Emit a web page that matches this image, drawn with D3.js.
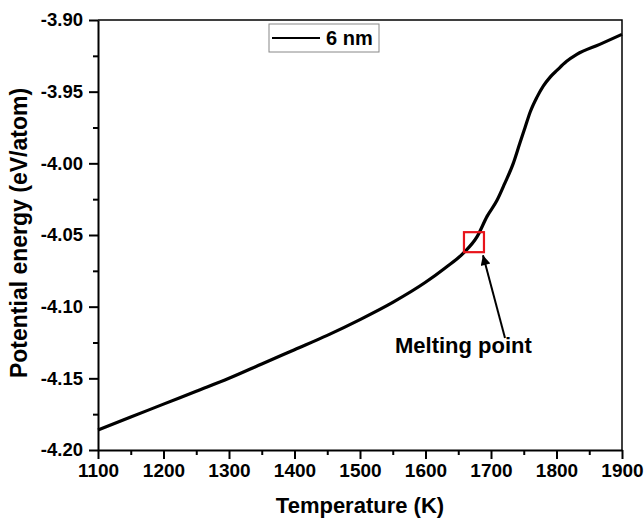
<!DOCTYPE html>
<html>
<head>
<meta charset="utf-8">
<script src="https://cdn.jsdelivr.net/npm/d3@7"></script>
<style>
  body { margin: 0; background: #fff; }
  text { font-family: "Liberation Sans", Arial, sans-serif; font-weight: bold; fill: #000; }
</style>
</head>
<body>
<svg id="chart" width="644" height="522"></svg>
<script>
// values
var temps = [1100, 1150, 1200, 1250, 1300, 1350, 1400, 1450, 1500, 1550, 1600, 1630,
             1657, 1679, 1694, 1709, 1721, 1734, 1744, 1752, 1760, 1770, 1780, 1790,
             1801, 1815, 1831, 1866, 1900];
var energy = [-4.186, -4.177, -4.168, -4.159, -4.150, -4.140, -4.130, -4.120, -4.109,
              -4.097, -4.083, -4.073, -4.063, -4.051, -4.037, -4.026, -4.014, -4.000,
              -3.986, -3.975, -3.964, -3.954, -3.946, -3.940, -3.935, -3.929, -3.924,
              -3.917, -3.910];
var xTicks = [1100, 1200, 1300, 1400, 1500, 1600, 1700, 1800, 1900];
var yTicks = [-4.20, -4.15, -4.10, -4.05, -4.00, -3.95, -3.90];
var seriesName = '6 nm';
var melting = { t: 1674, e: -4.055 };

(function () {
  var svg = d3.select('#chart');
  var m = { left: 98, right: 622, top: 20, bottom: 450 };

  var x = d3.scaleLinear().domain([1100, 1900]).range([m.left, m.right]);
  var y = d3.scaleLinear().domain([-4.20, -3.90]).range([m.bottom, m.top]);

  // minor ticks
  var xMinor = d3.range(1150, 1900, 100);
  var yMinor = [-4.175, -4.125, -4.075, -4.025, -3.975, -3.925];

  svg.append('g')
    .attr('transform', 'translate(0,' + m.bottom + ')')
    .call(d3.axisBottom(x).tickValues(xMinor).tickSize(5).tickFormat(''))
    .call(function (g) { g.select('.domain').remove(); });
  svg.append('g')
    .attr('transform', 'translate(' + m.left + ',0)')
    .call(d3.axisLeft(y).tickValues(yMinor).tickSize(5).tickFormat(''))
    .call(function (g) { g.select('.domain').remove(); });

  var xAxis = svg.append('g')
    .attr('transform', 'translate(0,' + m.bottom + ')')
    .call(d3.axisBottom(x).tickValues(xTicks).tickSize(9).tickSizeOuter(0).tickPadding(5)
      .tickFormat(d3.format('d')));
  xAxis.selectAll('text').style('font-size', '19px');

  var yAxis = svg.append('g')
    .attr('transform', 'translate(' + m.left + ',0)')
    .call(d3.axisLeft(y).tickValues(yTicks).tickSize(9).tickSizeOuter(0).tickPadding(6)
      .tickFormat(function (d) { return d.toFixed(2); }));
  yAxis.selectAll('text').style('font-size', '18.5px');

  svg.selectAll('.tick line').attr('stroke', '#000').attr('stroke-width', 2);
  svg.selectAll('.domain').attr('stroke', '#000').attr('stroke-width', 2);

  // top and right frame
  svg.append('path')
    .attr('d', 'M' + m.left + ',' + m.top + 'H' + m.right + 'V' + m.bottom)
    .attr('fill', 'none').attr('stroke', '#000').attr('stroke-width', 1.5);

  // data line
  var pts = temps.map(function (t, i) { return [t, energy[i]]; });
  svg.append('path')
    .datum(pts)
    .attr('fill', 'none')
    .attr('stroke', '#000')
    .attr('stroke-width', 3.2)
    .attr('d', d3.line()
      .x(function (d) { return x(d[0]); })
      .y(function (d) { return y(d[1]); })
      .curve(d3.curveMonotoneX));

  // legend
  var lg = svg.append('g').attr('transform', 'translate(269,24)');
  lg.append('rect').attr('width', 110).attr('height', 28)
    .attr('fill', '#fff').attr('stroke', '#888').attr('stroke-width', 1);
  lg.append('line').attr('x1', 3).attr('x2', 51).attr('y1', 14).attr('y2', 14)
    .attr('stroke', '#000').attr('stroke-width', 2.2);
  lg.append('text').attr('x', 57).attr('y', 21).style('font-size', '20px').text(seriesName);

  // melting point marker
  var mx = x(melting.t), my = y(melting.e);
  svg.append('rect')
    .attr('x', mx - 10).attr('y', my - 10).attr('width', 20).attr('height', 20)
    .attr('fill', 'none').attr('stroke', '#e8141b').attr('stroke-width', 2.2);

  svg.append('defs').append('marker')
    .attr('id', 'arrow').attr('viewBox', '0 0 10 10')
    .attr('refX', 10).attr('refY', 5)
    .attr('markerWidth', 7).attr('markerHeight', 5)
    .attr('markerUnits', 'strokeWidth')
    .attr('orient', 'auto')
    .append('path').attr('d', 'M0,0L10,5L0,10z').attr('fill', '#000');

  svg.append('line')
    .attr('x1', 505).attr('y1', 338)
    .attr('x2', mx + 9).attr('y2', my + 13)
    .attr('stroke', '#000').attr('stroke-width', 2)
    .attr('marker-end', 'url(#arrow)');

  svg.append('text').attr('x', 395).attr('y', 353)
    .style('font-size', '22px').text('Melting point');

  // axis titles
  svg.append('text')
    .attr('x', (m.left + m.right) / 2).attr('y', 513)
    .attr('text-anchor', 'middle')
    .style('font-size', '22px')
    .text('Temperature (K)');

  svg.append('text')
    .attr('transform', 'translate(27,233) rotate(-90)')
    .attr('text-anchor', 'middle')
    .style('font-size', '23px')
    .text('Potential energy (eV/atom)');
})();
</script>
</body>
</html>
